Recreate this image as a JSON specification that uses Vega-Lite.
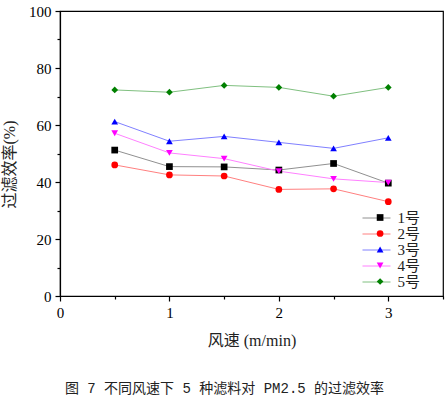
{
  "$schema": "https://vega.github.io/schema/vega-lite/v6.json",
  "width": 383,
  "height": 285,
  "autosize": "none",
  "padding": {"left": 60, "top": 11, "right": 5, "bottom": 101},
  "background": "white",
  "config": {
    "font": "Liberation Serif",
    "view": {"stroke": "#000000", "strokeWidth": 1.2},
    "axis": {
      "grid": false,
      "domainColor": "#000000",
      "domainWidth": 1.2,
      "tickColor": "#000000",
      "tickWidth": 1.2,
      "labelColor": "#000000",
      "labelFont": "Liberation Serif",
      "labelFontSize": 15,
      "labelFlush": false,
      "labelOverlap": false,
      "titleColor": "#222222",
      "titleFont": "Liberation Serif, Noto Sans CJK SC",
      "titleFontSize": 16,
      "titleFontWeight": "normal"
    }
  },
  "data": {
    "values": [
      {"speed": 0.5, "id": "1号", "eff": 51.2},
      {"speed": 1.0, "id": "1号", "eff": 45.4},
      {"speed": 1.5, "id": "1号", "eff": 45.3},
      {"speed": 2.0, "id": "1号", "eff": 44.2},
      {"speed": 2.5, "id": "1号", "eff": 46.5},
      {"speed": 3.0, "id": "1号", "eff": 39.6},
      {"speed": 0.5, "id": "2号", "eff": 46.0},
      {"speed": 1.0, "id": "2号", "eff": 42.5},
      {"speed": 1.5, "id": "2号", "eff": 42.1},
      {"speed": 2.0, "id": "2号", "eff": 37.4},
      {"speed": 2.5, "id": "2号", "eff": 37.6},
      {"speed": 3.0, "id": "2号", "eff": 33.1},
      {"speed": 0.5, "id": "3号", "eff": 61.2},
      {"speed": 1.0, "id": "3号", "eff": 54.3},
      {"speed": 1.5, "id": "3号", "eff": 56.0},
      {"speed": 2.0, "id": "3号", "eff": 53.9},
      {"speed": 2.5, "id": "3号", "eff": 51.8},
      {"speed": 3.0, "id": "3号", "eff": 55.5},
      {"speed": 0.5, "id": "4号", "eff": 57.1},
      {"speed": 1.0, "id": "4号", "eff": 50.2},
      {"speed": 1.5, "id": "4号", "eff": 48.2},
      {"speed": 2.0, "id": "4号", "eff": 43.8},
      {"speed": 2.5, "id": "4号", "eff": 41.1},
      {"speed": 3.0, "id": "4号", "eff": 39.8},
      {"speed": 0.5, "id": "5号", "eff": 72.3},
      {"speed": 1.0, "id": "5号", "eff": 71.5},
      {"speed": 1.5, "id": "5号", "eff": 73.9},
      {"speed": 2.0, "id": "5号", "eff": 73.2},
      {"speed": 2.5, "id": "5号", "eff": 70.1},
      {"speed": 3.0, "id": "5号", "eff": 73.2}
    ]
  },
  "title": {
    "text": "图 7   不同风速下 5 种滤料对 PM2.5 的过滤效率",
    "orient": "bottom",
    "anchor": "middle",
    "dx": -27,
    "offset": 34,
    "font": "Liberation Mono, Noto Sans CJK SC",
    "fontSize": 14,
    "fontWeight": "normal",
    "color": "#222222"
  },
  "encoding": {
    "x": {
      "field": "speed",
      "type": "quantitative",
      "scale": {"domain": [0, 3.5], "nice": false, "zero": false},
      "axis": {
        "title": "风速 (m/min)",
        "values": [0, 0.5, 1, 1.5, 2, 2.5, 3, 3.5],
        "labelExpr": "datum.value % 1 === 0 ? format(datum.value, 'd') : ''",
        "tickSize": {"condition": {"test": "datum.value % 1 === 0", "value": 5}, "value": 3},
        "labelPadding": 4,
        "titlePadding": 12
      }
    },
    "y": {
      "field": "eff",
      "type": "quantitative",
      "scale": {"domain": [0, 100], "nice": false},
      "axis": {
        "title": "过滤效率(%)",
        "values": [0, 10, 20, 30, 40, 50, 60, 70, 80, 90, 100],
        "labelExpr": "datum.value % 20 === 0 ? datum.label : ''",
        "tickSize": {"condition": {"test": "datum.value % 20 === 0", "value": 5}, "value": 3},
        "labelPadding": 4,
        "titlePadding": 11,
        "titleY": 153
      }
    }
  },
  "layer": [
    {
      "mark": {"type": "line", "strokeWidth": 1},
      "encoding": {
        "stroke": {
          "field": "id",
          "type": "nominal",
          "scale": {"range": ["#909090", "#ff8080", "#8080ff", "#ff80ff", "#80c080"]},
          "legend": {
            "title": null,
            "orient": "none",
            "legendX": 308.5,
            "legendY": 199,
            "padding": 0,
            "symbolType": "M-1.867,0L1.867,0",
            "symbolSize": 225,
            "symbolStrokeWidth": 1,
            "labelExpr": "''",
            "labelFont": "Liberation Serif, Noto Sans CJK SC",
            "labelFontSize": 15,
            "labelOffset": 0,
            "rowPadding": 0
          }
        }
      }
    },
    {
      "mark": {"type": "point", "filled": true, "size": 45, "opacity": 1},
      "encoding": {
        "fill": {
          "field": "id",
          "type": "nominal",
          "scale": {"domain": ["1号", "2号", "3号", "4号", "5号"], "range": ["#000000", "#ff0000", "#0000ff", "#ff00ff", "#008000"]},
          "legend": {
            "title": null,
            "orient": "none",
            "legendX": 312.6,
            "legendY": 199,
            "padding": 0,
            "symbolSize": 45,
            "symbolStrokeWidth": 0,
            "symbolOpacity": 1,
            "labelColor": "#222222",
            "labelFont": "Liberation Serif, Noto Sans CJK SC",
            "labelFontSize": 15,
            "labelOffset": 10,
            "rowPadding": 0
          }
        },
        "shape": {
          "field": "id",
          "type": "nominal",
          "scale": {"domain": ["1号", "2号", "3号", "4号", "5号"], "range": ["square", "circle", "triangle-up", "triangle-down", "diamond"]},
          "legend": {
            "title": null,
            "orient": "none",
            "legendX": 312.6,
            "legendY": 199,
            "padding": 0,
            "symbolSize": 45,
            "labelFont": "Liberation Serif, Noto Sans CJK SC",
            "labelFontSize": 15,
            "labelOffset": 10,
            "rowPadding": 0
          }
        }
      }
    }
  ]
}
